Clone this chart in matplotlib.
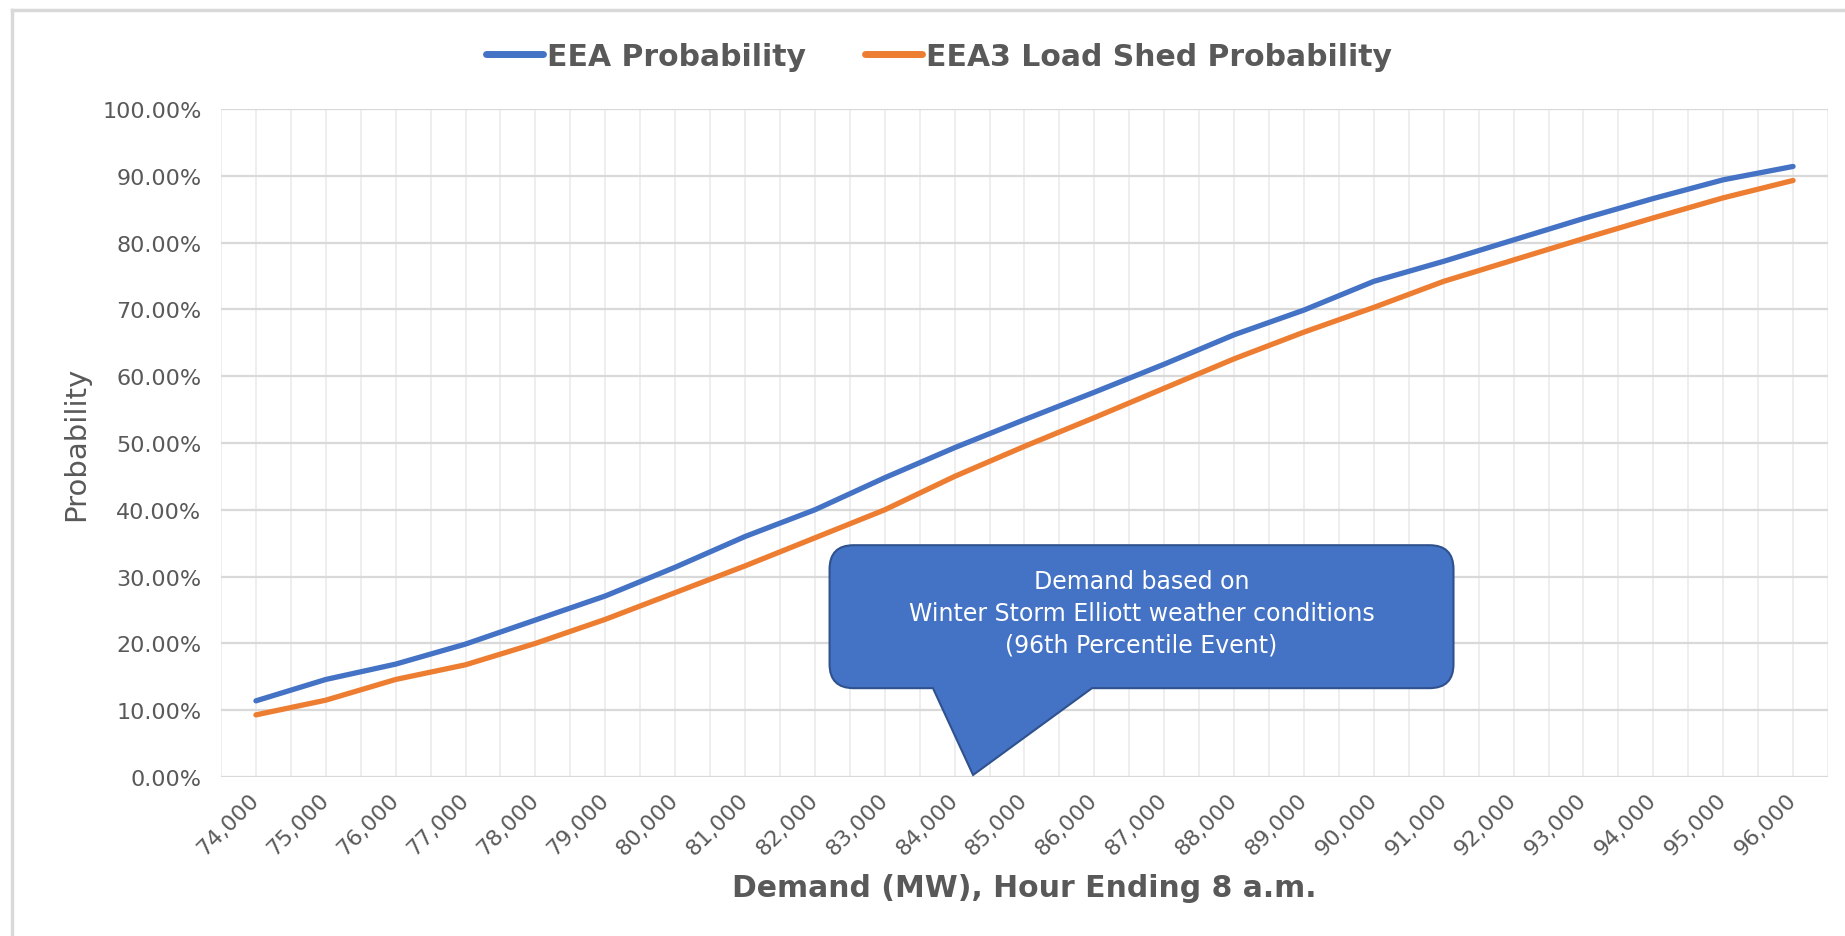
import matplotlib
matplotlib.use("Agg")
import matplotlib.pyplot as plt
from matplotlib.patches import PathPatch
from matplotlib.path import Path
from matplotlib.transforms import IdentityTransform
from matplotlib.lines import Line2D
import numpy as np

# data
demand = [74000, 75000, 76000, 77000, 78000, 79000, 80000, 81000, 82000, 83000, 84000, 85000,
          86000, 87000, 88000, 89000, 90000, 91000, 92000, 93000, 94000, 95000, 96000]
eea_prob = [11.4, 14.6, 16.9, 19.9, 23.5, 27.1, 31.4, 36.0, 40.0, 44.8, 49.3, 53.5,
            57.6, 61.8, 66.2, 69.9, 74.2, 77.2, 80.4, 83.6, 86.6, 89.4, 91.4]
eea3_prob = [9.3, 11.5, 14.6, 16.8, 20.0, 23.6, 27.6, 31.6, 35.8, 40.0, 45.0, 49.5,
             53.8, 58.2, 62.6, 66.6, 70.3, 74.2, 77.4, 80.6, 83.7, 86.7, 89.3]
series_names = ["EEA Probability", "EEA3 Load Shed Probability"]
callout_text = "Demand based on\nWinter Storm Elliott weather conditions\n(96th Percentile Event)"

blue = "#4472C4"
orange = "#ED7D31"
gray_text = "#595959"

W, H = 1845, 937
fig = plt.figure(figsize=(W / 100, H / 100), dpi=100)
ax = fig.add_axes([221 / W, 1 - 778 / H, (1828 - 221) / W, (778 - 110) / H])

# lines
ax.plot(demand, eea_prob, color=blue, lw=3.8, solid_capstyle="round", label=series_names[0], zorder=3)
ax.plot(demand, eea3_prob, color=orange, lw=3.8, solid_capstyle="round", label=series_names[1], zorder=3)

# axes
ax.set_xlim(demand[0] - 500, demand[-1] + 500)
ax.set_ylim(0, 100)
ax.set_yticks(np.arange(0, 101, 10))
ax.set_yticklabels([f"{v:.2f}%" for v in np.arange(0, 101, 10)])
ax.set_xticks(demand)
ax.set_xticklabels([f"{d:,}" for d in demand], rotation=45, ha="right", va="center",
                   rotation_mode="anchor")
ax.set_xticks([d + 500 for d in demand] + [demand[0] - 500], minor=True)
ax.tick_params(axis="both", which="both", length=0, labelsize=16, labelcolor=gray_text)
ax.tick_params(axis="x", pad=14)
ax.tick_params(axis="y", pad=14)
ax.grid(axis="y", color="#d9d9d9", lw=1.6, zorder=0)
ax.grid(axis="x", which="both", color="#ebebeb", lw=1.2, zorder=0)
for s in ax.spines.values():
    s.set_visible(False)

ax.set_ylabel("Probability", fontsize=21, color=gray_text)
ax.yaxis.set_label_coords((90 - 221) / (1828 - 221), 0.5)
ax.set_xlabel("Demand (MW), Hour Ending 8 a.m.", fontsize=21.5, fontweight="bold", color=gray_text)
ax.xaxis.set_label_coords((1024 - 221) / (1828 - 221), -(874 - 778) / (778 - 110))

# legend
leg = fig.legend(loc="center", bbox_to_anchor=(939 / W, 1 - 57 / H), ncol=2, frameon=False,
                 fontsize=21.5, handlelength=1.9, handletextpad=0.12, columnspacing=2.0)
for t in leg.get_texts():
    t.set_fontweight("bold")
    t.set_color(gray_text)
for h in leg.legend_handles:
    h.set_linewidth(5)

# callout: rounded box with a tail, built in pixel space from data positions
x0, x1, y0, y1 = 82210, 91140, 13.3, 34.7
tail_l, tail_r, tip = 83690, 85966, (84264, 0.3)
X0, Y0 = ax.transData.transform((x0, y0))
X1, Y1 = ax.transData.transform((x1, y1))
TL = ax.transData.transform((tail_l, y0))[0]
TR = ax.transData.transform((tail_r, y0))[0]
TX, TY = ax.transData.transform(tip)
r = 24
verts = [(X0 + r, Y0), (TL, Y0), (TX, TY), (TR, Y0), (X1 - r, Y0),
         (X1, Y0), (X1, Y0 + r), (X1, Y1 - r),
         (X1, Y1), (X1 - r, Y1), (X0 + r, Y1),
         (X0, Y1), (X0, Y1 - r), (X0, Y0 + r),
         (X0, Y0), (X0 + r, Y0), (X0 + r, Y0)]
codes = [Path.MOVETO, Path.LINETO, Path.LINETO, Path.LINETO, Path.LINETO,
         Path.CURVE3, Path.CURVE3, Path.LINETO,
         Path.CURVE3, Path.CURVE3, Path.LINETO,
         Path.CURVE3, Path.CURVE3, Path.LINETO,
         Path.CURVE3, Path.CURVE3, Path.CLOSEPOLY]
callout = PathPatch(Path(verts, codes), facecolor=blue, edgecolor="#2F528F", lw=1.5,
                    transform=IdentityTransform(), zorder=5)
ax.add_patch(callout)
ax.text((x0 + x1) / 2, 24.6, callout_text, ha="center", va="center", color="white",
        fontsize=17, linespacing=1.4, zorder=7)

# frame
fig.add_artist(Line2D([12 / W, 1], [1 - 11 / H, 1 - 11 / H], color="#d9d9d9", lw=2.5))
fig.add_artist(Line2D([12 / W, 12 / W], [0, 1 - 11 / H], color="#d9d9d9", lw=2.5))

fig.savefig("out.png", dpi=100)
